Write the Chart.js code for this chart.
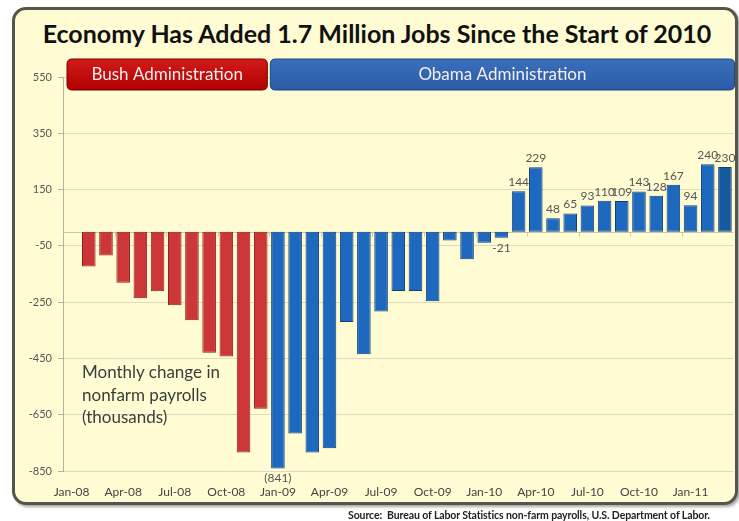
<!DOCTYPE html>
<html>
<head>
<meta charset="utf-8">
<title>Monthly change in nonfarm payrolls</title>
<script src="https://cdn.jsdelivr.net/npm/chart.js@4.4.1/dist/chart.umd.min.js"></script>
<style>
  body { margin: 0; background: #fff; }
  #wrap { position: relative; width: 739px; height: 521px; overflow: hidden; font-family: Lato, 'Open Sans', sans-serif; }
  #frame { position: absolute; left: 12px; top: 7px; width: 720px; height: 492px; background: #fffcd3;
           border: 3px solid #55554a; border-radius: 14px; box-shadow: 2px 2px 3px rgba(0,0,0,0.35); }
  #title { position: absolute; left: 0; top: 18px; width: 754px; text-align: center; font-weight: bold;
           font-size: 25px; color: #111; white-space: nowrap; }
  #note { position: absolute; left: 82px; top: 361px; font-size: 17px; line-height: 22.5px; color: #3c3c3c; }
  #source { position: absolute; right: 29px; top: 509px; font-size: 10.5px; font-weight: bold; color: #222;
            white-space: nowrap; letter-spacing: -0.1px; }
  canvas { position: absolute; left: 0; top: 0; }
</style>
</head>
<body>
<div id="wrap">
  <div id="frame"></div>
  <div id="title">Economy Has Added 1.7 Million Jobs Since the Start of 2010</div>
  <canvas id="chart" width="739" height="521"></canvas>
  <div id="note">Monthly change in<br>nonfarm payrolls<br>(thousands)</div>
  <div id="source">Source:&nbsp; Bureau of Labor Statistics non-farm payrolls, U.S. Department of Labor.</div>
</div>
<script>
const months = [
  'Jan-08', 'Feb-08', 'Mar-08', 'Apr-08', 'May-08', 'Jun-08', 'Jul-08', 'Aug-08', 'Sep-08', 'Oct-08', 'Nov-08', 'Dec-08',
  'Jan-09', 'Feb-09', 'Mar-09', 'Apr-09', 'May-09', 'Jun-09', 'Jul-09', 'Aug-09', 'Sep-09', 'Oct-09', 'Nov-09', 'Dec-09',
  'Jan-10', 'Feb-10', 'Mar-10', 'Apr-10', 'May-10', 'Jun-10', 'Jul-10', 'Aug-10', 'Sep-10', 'Oct-10', 'Nov-10', 'Dec-10',
  'Jan-11', 'Feb-11', 'Mar-11'
];

// thousands of jobs, month over month
const payrolls = [
  null, -123, -84, -181, -236, -211, -261, -314, -430, -443, -784, -629,
  -841, -717, -784, -769, -321, -435, -283, -210, -210, -247, -31, -98,
  -39, -21, 144, 229, 48, 65, 93, 110, 109, 143, 128, 167,
  94, 240, 230
];

const yTicks = { min: -850, max: 550, step: 200 };

const eraNames = ['Bush Administration', 'Obama Administration'];
const eraStart = ['Jan-08', 'Jan-09'];

// months whose value is printed next to the bar
const labelledMonths = ['Jan-09', 'Feb-10', 'Mar-10', 'Apr-10', 'May-10', 'Jun-10', 'Jul-10', 'Aug-10',
  'Sep-10', 'Oct-10', 'Nov-10', 'Dec-10', 'Jan-11', 'Feb-11', 'Mar-11'];

const obamaStart = months.indexOf(eraStart[1]);

// red bars get a soft cylinder shading, blue ones stay flat
function barFill(ctx) {
  const i = ctx.dataIndex;
  if (i >= obamaStart) return i === months.length - 1 ? '#15599f' : '#1c69bf';
  const el = ctx.chart.getDatasetMeta(0).data[i];
  if (!el || !el.width) return '#cc3636';
  const g = ctx.chart.ctx.createLinearGradient(el.x - el.width / 2, 0, el.x + el.width / 2, 0);
  g.addColorStop(0, '#b92a2a');
  g.addColorStop(0.5, '#d94444');
  g.addColorStop(1, '#b92a2a');
  return g;
}
function barEdge(ctx) {
  return ctx.dataIndex < obamaStart ? '#86201f' : '#133f78';
}

function formatValue(v) {
  return v < -100 ? '(' + Math.abs(v) + ')' : String(v);
}

function roundRect(c, x, y, w, h, r) {
  c.beginPath();
  c.moveTo(x + r, y);
  c.lineTo(x + w - r, y);
  c.quadraticCurveTo(x + w, y, x + w, y + r);
  c.lineTo(x + w, y + h - r);
  c.quadraticCurveTo(x + w, y + h, x + w - r, y + h);
  c.lineTo(x + r, y + h);
  c.quadraticCurveTo(x, y + h, x, y + h - r);
  c.lineTo(x, y + r);
  c.quadraticCurveTo(x, y, x + r, y);
  c.closePath();
}

// zero line, quarter ticks on it, and the two administration banners
const decorations = {
  id: 'decorations',
  beforeDatasetsDraw(chart) {
    const c = chart.ctx;
    const x = chart.scales.x, y = chart.scales.y;
    const cw = (x.right - x.left) / months.length;
    const y0 = Math.round(y.getPixelForValue(0)) + 0.5;

    c.save();
    c.strokeStyle = '#c9c5ad';
    c.lineWidth = 1;
    c.beginPath();
    c.moveTo(x.left, y0);
    c.lineTo(x.right, y0);
    for (let i = 3; i < months.length; i += 3) {
      const px = Math.round(x.left + i * cw) + 0.5;
      c.moveTo(px, y0);
      c.lineTo(px, y0 + 4);
    }
    c.stroke();

    const bannerColors = [['#d41a1a', '#b00000', '#7d0000'], ['#3a6fbc', '#2b5ca6', '#1f4684']];
    const top = chart.chartArea.top - 18;
    const h = 31;
    eraNames.forEach((name, k) => {
      const from = months.indexOf(eraStart[k]);
      const to = k + 1 < eraStart.length ? months.indexOf(eraStart[k + 1]) : months.length;
      const left = x.left + from * cw + (k === 0 ? 4 : 1);
      const right = x.left + to * cw - (k === 0 ? 2 : -1);
      const g = c.createLinearGradient(0, top, 0, top + h);
      g.addColorStop(0, bannerColors[k][0]);
      g.addColorStop(1, bannerColors[k][1]);
      roundRect(c, left, top, right - left, h, 5);
      c.fillStyle = g;
      c.fill();
      c.strokeStyle = bannerColors[k][2];
      c.lineWidth = 1;
      c.stroke();
      c.fillStyle = '#f6eeee';
      c.font = '17px Lato, sans-serif';
      c.textAlign = 'center';
      c.textBaseline = 'middle';
      c.fillText(name, (left + right) / 2, top + h / 2);
    });
    c.restore();
  },
  afterDatasetsDraw(chart) {
    const c = chart.ctx;
    const meta = chart.getDatasetMeta(0);
    c.save();
    c.font = '12px Lato, sans-serif';
    c.fillStyle = '#555';
    c.textAlign = 'center';
    labelledMonths.forEach(m => {
      const i = months.indexOf(m);
      const v = payrolls[i];
      const bar = meta.data[i];
      if (v >= 0) {
        c.textBaseline = 'bottom';
        c.fillText(formatValue(v), bar.x, bar.y - 3);
      } else {
        c.textBaseline = 'top';
        c.fillText(formatValue(v), bar.x, bar.y + 4);
      }
    });
    c.restore();
  }
};

new Chart(document.getElementById('chart'), {
  type: 'bar',
  data: {
    labels: months,
    datasets: [{
      data: payrolls,
      backgroundColor: barFill,
      borderColor: barEdge,
      borderWidth: 1,
      borderSkipped: false,
      barPercentage: 0.79,
      categoryPercentage: 1
    }]
  },
  plugins: [decorations],
  options: {
    responsive: false,
    animation: false,
    layout: { padding: { left: 0, right: 4, top: 77, bottom: 20 } },
    plugins: { legend: { display: false }, tooltip: { enabled: false } },
    scales: {
      x: {
        grid: { display: false, drawTicks: false },
        border: { display: false },
        ticks: {
          autoSkip: false,
          maxRotation: 0,
          padding: 14,
          color: '#444',
          font: { family: 'Lato', size: 12 },
          callback: (v, i) => (i % 3 === 0 ? months[i] : '')
        },
        afterFit: s => { s.height = 30; }
      },
      y: {
        min: yTicks.min,
        max: yTicks.max,
        ticks: { stepSize: yTicks.step, color: '#555', padding: 6, font: { family: 'Lato', size: 11 } },
        grid: { color: '#dedac0', tickColor: '#b5b19c', tickLength: 5 },
        border: { color: '#b5b19c' },
        afterFit: s => { s.width = 63; }
      }
    }
  }
});
</script>
</body>
</html>
